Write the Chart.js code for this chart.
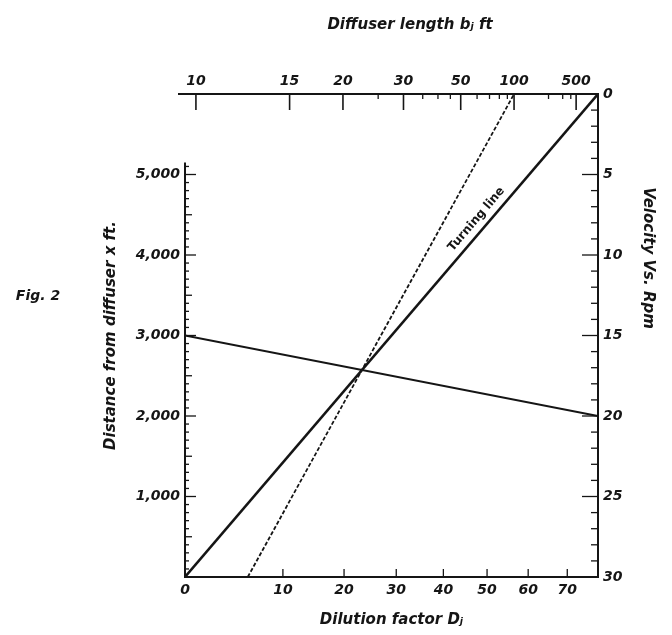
<!DOCTYPE html>
<html>
<head>
<meta charset="utf-8">
<title>Fig. 2 nomograph</title>
<script src="https://cdn.jsdelivr.net/npm/chart.js@4.4.1/dist/chart.umd.min.js"></script>
<style>
  html, body { margin: 0; padding: 0; background: #fff; }
  #wrap { width: 672px; height: 635px; position: relative; }
</style>
</head>
<body>
<div id="wrap"><canvas id="nomo"></canvas></div>
<script>
// tick values of the four scales
const dilutionTicks = [0, 10, 20, 30, 40, 50, 60, 70];
const lengthTicks = [10, 15, 20, 30, 50, 100, 500];
const lengthMinorTicks = [25, 35, 40, 45, 60, 70, 80, 90, 200, 300, 400];
const distanceTicks = [1000, 2000, 3000, 4000, 5000];
const velocityTicks = [0, 5, 10, 15, 20, 25, 30];

// lines on the nomograph
const turningLine = [0, 0];       // distance x (ft) on left axis -> velocity on right axis
const exampleLine = [3000, 20];   // distance x (ft) -> velocity
const dilutionLine = [5.3, 100];  // dilution factor (bottom) -> diffuser length (top)

const DIST_MAX = 6000;
const VEL_MAX = 30;
const DIST_AXIS_END = 5150;

const INK = '#151515';
const FAMILY = "'DejaVu Sans', 'Liberation Sans', sans-serif";
const TICK_FONT = { family: FAMILY, size: 14, weight: 'bold', style: 'italic' };
const TITLE_FONT = { family: FAMILY, size: 15, weight: 'bold', style: 'italic' };

// horizontal scales are not linear, both are mapped to 0..1 across the plot
function dilutionPos(d) { return 0.0473 * Math.pow(d, 0.70); }
function lengthPos(b) { return 1.0326 - 4.292 * Math.pow(b, -0.63); }
function velocityToDistance(v) { return (VEL_MAX - v) / VEL_MAX * DIST_MAX; }

function crossLine(line) {
    return [
        { x: 0, y: line[0] },
        { x: 1, y: velocityToDistance(line[1]) }
    ];
}

// axis lines + inward tick marks, and the loose labels
const nomoAxes = {
    id: 'nomoAxes',
    afterDraw(chart) {
        const { ctx, chartArea: a } = chart;
        const { x, x2, y, y2 } = chart.scales;
        const seg = (xa, ya, xb, yb) => {
            ctx.beginPath();
            ctx.moveTo(xa, ya);
            ctx.lineTo(xb, yb);
            ctx.stroke();
        };
        ctx.save();
        ctx.strokeStyle = INK;

        ctx.lineWidth = 2;
        seg(a.left, y.getPixelForValue(0) + 1, a.left, y.getPixelForValue(DIST_AXIS_END));
        seg(a.left - 7, a.top, a.right + 1, a.top);
        seg(a.left - 1, a.bottom, a.right + 1, a.bottom);
        seg(a.right, a.top, a.right, a.bottom);

        ctx.lineWidth = 1.3;
        for (let d = 100; d <= 5100; d += 100) {
            const len = d % 1000 === 0 ? 11 : (d % 500 === 0 ? 7 : 4);
            const py = y.getPixelForValue(d);
            seg(a.left, py, a.left + len, py);
        }
        for (let v = 1; v < VEL_MAX; v++) {
            const len = v % 5 === 0 ? 16 : 7;
            const py = y2.getPixelForValue(v);
            seg(a.right - len, py, a.right, py);
        }
        dilutionTicks.slice(1).forEach(d => {
            const px = x.getPixelForValue(dilutionPos(d));
            seg(px, a.bottom, px, a.bottom - 8);
        });
        ctx.lineWidth = 1.6;
        lengthTicks.forEach(b => {
            const px = x2.getPixelForValue(lengthPos(b));
            seg(px, a.top, px, a.top + 16);
        });
        ctx.lineWidth = 1.3;
        lengthMinorTicks.forEach(b => {
            const px = x2.getPixelForValue(lengthPos(b));
            seg(px, a.top, px, a.top + 5);
        });

        ctx.fillStyle = INK;
        ctx.font = 'italic bold 14px ' + FAMILY;
        ctx.textAlign = 'center';
        ctx.textBaseline = 'middle';
        ctx.fillText('Fig. 2', 38, 296);
        ctx.font = 'italic bold 15px ' + FAMILY;
        ctx.fillText('Diffuser length b\u2c7c ft', 410, 25);

        ctx.save();
        ctx.translate(648, 258);
        ctx.rotate(Math.PI / 2);
        ctx.fillText('Velocity Vs. Rpm', 0, 0);
        ctx.restore();

        // label along the turning line
        const p0 = { x: x.getPixelForValue(0), y: y.getPixelForValue(turningLine[0]) };
        const p1 = { x: x.getPixelForValue(1), y: y.getPixelForValue(velocityToDistance(turningLine[1])) };
        const t = 0.726;
        ctx.save();
        ctx.translate(p0.x + (p1.x - p0.x) * t, p0.y + (p1.y - p0.y) * t);
        ctx.rotate(Math.atan2(p1.y - p0.y, p1.x - p0.x));
        ctx.font = 'bold 12px ' + FAMILY;
        ctx.fillText('Turning line', 0, -11);
        ctx.restore();

        ctx.restore();
    }
};

const hiddenGrid = { display: false, drawTicks: false };

new Chart(document.getElementById('nomo'), {
    type: 'scatter',
    data: {
        datasets: [
            {
                label: 'Turning line',
                data: crossLine(turningLine),
                showLine: true,
                borderColor: INK,
                borderWidth: 2.5
            },
            {
                label: 'Distance / velocity',
                data: crossLine(exampleLine),
                showLine: true,
                borderColor: INK,
                borderWidth: 2.2
            },
            {
                label: 'Dilution / diffuser length',
                data: [
                    { x: dilutionPos(dilutionLine[0]), y: 0 },
                    { x: lengthPos(dilutionLine[1]), y: DIST_MAX }
                ],
                showLine: true,
                borderColor: INK,
                borderWidth: 1.8,
                borderDash: [4, 2]
            }
        ]
    },
    options: {
        responsive: true,
        maintainAspectRatio: false,
        animation: false,
        layout: { padding: { left: 95, top: 0, right: 0, bottom: 0 } },
        elements: { point: { radius: 0 } },
        plugins: { legend: { display: false }, tooltip: { enabled: false } },
        scales: {
            x: {
                type: 'linear',
                position: 'bottom',
                min: 0,
                max: 1,
                grid: hiddenGrid,
                border: { display: false },
                afterBuildTicks: s => { s.ticks = dilutionTicks.map(d => ({ value: dilutionPos(d) })); },
                afterFit: s => { s.height = 58; },
                ticks: {
                    autoSkip: false, maxRotation: 0, padding: 5, color: INK, font: TICK_FONT,
                    callback: (v, i) => dilutionTicks[i]
                },
                title: {
                    display: true, text: 'Dilution factor D\u2c7c', color: INK, font: TITLE_FONT,
                    padding: { top: 0, bottom: 6 }
                }
            },
            x2: {
                type: 'linear',
                position: 'top',
                min: 0,
                max: 1,
                grid: hiddenGrid,
                border: { display: false },
                afterBuildTicks: s => { s.ticks = lengthTicks.map(b => ({ value: lengthPos(b) })); },
                afterFit: s => { s.height = 94; },
                ticks: {
                    autoSkip: false, maxRotation: 0, padding: 4, color: INK, font: TICK_FONT,
                    callback: (v, i) => lengthTicks[i]
                }
            },
            y: {
                type: 'linear',
                position: 'left',
                min: 0,
                max: DIST_MAX,
                grid: hiddenGrid,
                border: { display: false },
                afterBuildTicks: s => { s.ticks = distanceTicks.map(d => ({ value: d })); },
                afterFit: s => { s.width = 90; },
                ticks: {
                    autoSkip: false, padding: 5, color: INK, font: TICK_FONT,
                    callback: (v, i) => distanceTicks[i].toLocaleString('en-US')
                },
                title: {
                    display: true, text: 'Distance from diffuser x ft.', color: INK, font: TITLE_FONT,
                    padding: { top: 7, bottom: 0 }
                }
            },
            y2: {
                type: 'linear',
                position: 'right',
                min: 0,
                max: VEL_MAX,
                reverse: true,
                grid: hiddenGrid,
                border: { display: false },
                afterBuildTicks: s => { s.ticks = velocityTicks.map(v => ({ value: v })); },
                afterFit: s => { s.width = 74; },
                ticks: {
                    autoSkip: false, padding: 5, color: INK, font: TICK_FONT,
                    callback: (v, i) => velocityTicks[i]
                }
            }
        }
    },
    plugins: [nomoAxes]
});
</script>
</body>
</html>
